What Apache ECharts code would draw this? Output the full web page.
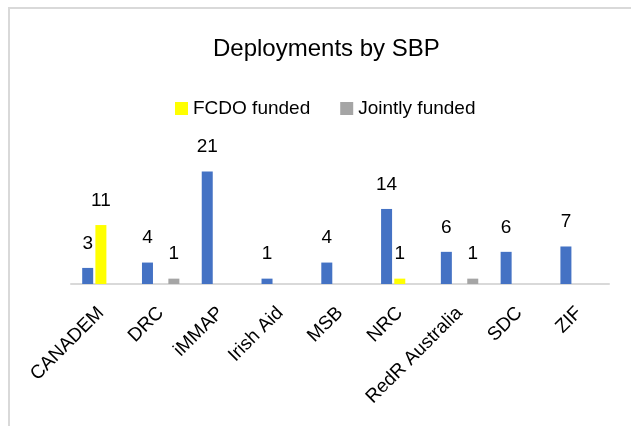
<!DOCTYPE html>
<html>
<head>
<meta charset="utf-8">
<script src="https://cdn.jsdelivr.net/npm/echarts@6/dist/echarts.min.js"></script>
<style>
html,body{margin:0;padding:0;background:#fff;}
#chart{width:631px;height:426px;}
</style>
</head>
<body>
<div id="chart"></div>
<script>
const categories = ['CANADEM', 'DRC', 'iMMAP', 'Irish Aid', 'MSB', 'NRC', 'RedR Australia', 'SDC', 'ZIF'];
const totalDeployments = [3, 4, 21, 1, 4, 14, 6, 6, 7];
const fcdoFunded = [11, null, null, null, null, 1, null, null, null];
const jointlyFunded = [null, 1, null, null, null, null, 1, null, null];
const titleText = 'Deployments by SBP';

const FONT = "'Liberation Sans', Arial, sans-serif";
const labelCfg = {
  show: true, position: 'top', distance: 15,
  fontSize: 19, color: '#000', fontFamily: FONT
};

const chart = echarts.init(document.getElementById('chart'), null, {renderer: 'canvas'});
chart.setOption({
  animation: false,
  backgroundColor: '#fff',
  graphic: [{
    type: 'rect', silent: true, z: -10,
    shape: {x: 9, y: 8, width: 800, height: 600},
    style: {fill: 'none', stroke: '#D9D9D9', lineWidth: 2}
  }],
  title: {
    text: titleText, left: 208, top: 32,
    textStyle: {fontSize: 24, fontWeight: 'normal', color: '#000', fontFamily: FONT}
  },
  legend: {
    data: ['FCDO funded', 'Jointly funded'],
    left: 170, top: 94,
    itemWidth: 13, itemHeight: 13, itemGap: 30,
    icon: 'rect',
    textStyle: {fontSize: 19, color: '#000', fontFamily: FONT}
  },
  grid: {left: 71, right: 22, top: 150, bottom: 142, containLabel: false},
  xAxis: {
    type: 'category', data: categories,
    axisLine: {lineStyle: {color: '#D9D9D9', width: 2}},
    axisTick: {show: false},
    axisLabel: {rotate: 45, margin: 26, fontSize: 19, color: '#000', fontFamily: FONT, interval: 0}
  },
  yAxis: {type: 'value', min: 0, max: 25, show: false, splitLine: {show: false}},
  series: [
    {name: 'Deployments', type: 'bar', data: totalDeployments, barWidth: 11, barGap: '20%',
     itemStyle: {color: '#4472C4'}, label: labelCfg},
    {name: 'FCDO funded', type: 'bar', data: fcdoFunded, barWidth: 11, barGap: '20%',
     itemStyle: {color: '#FFFF00'}, label: labelCfg},
    {name: 'Jointly funded', type: 'bar', data: jointlyFunded, barWidth: 11, barGap: '20%',
     itemStyle: {color: '#A5A5A5'}, label: labelCfg}
  ]
});
</script>
</body>
</html>
